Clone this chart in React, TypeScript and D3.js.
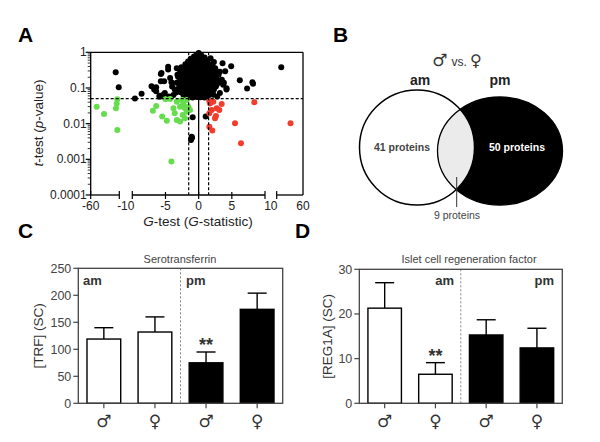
import React from "react";
import * as d3 from "d3";

// ---------- Panel A data (G-statistic, t-test p-value) ----------
const blackPoints: [number, number][] = [
  // outer scatter
  [-16.3, 0.275], [-11, 0.105], [-9.6, 0.051], [-8.6, 0.069], [-7.1, 0.112], [-6.7, 0.09],
  [-6.4, 0.105], [-6.4, 0.081], [-5.9, 0.061], [-5.6, 0.263], [-5.7, 0.154], [-4.6, 0.33],
  [-4.3, 0.19], [-5.2, 0.154], [-4.1, 0.144], [-3.3, 0.36], [-3.2, 0.236], [-3.6, 0.09],
  [-5.1, 0.072], [-2.3, 0.065], [-4.6, 0.395], [-5.7, 0.247], [-3.1, 0.207], [-5.9, 0.057],
  [-5.4, 0.064], [-3.8, 0.064], [-4.5, 0.058], [-3.4, 0.075], [-4.0, 0.11],
  [2.5, 0.36], [3.0, 0.236], [4.0, 0.294], [3.5, 0.171], [3.7, 0.124], [4.2, 0.09],
  [2.7, 0.124], [3.2, 0.072], [2.2, 0.065], [1.8, 0.68], [2.3, 0.535], [4.9, 0.405],
  [6.2, 0.164], [7.3, 0.096], [8.1, 0.144], [8.2, 0.132], [18.6, 0.38], [3.2, 0.286],
  [3.8, 0.14], [4.2, 0.098], [3.6, 0.49], [2.8, 0.058],
  [-0.9, 0.015], [-1.05, 0.0043], [-1.15, 0.0035], [-1.0, 0.004], [1.06, 0.0158],
  // dense core
  [0, 0.95], [-0.3, 0.85], [0.35, 0.86],
  [-0.7, 0.76], [-0.1, 0.78], [0.5, 0.74], [0.9, 0.72],
  [-1.2, 0.66], [-0.5, 0.64], [0.1, 0.65], [0.7, 0.62], [1.3, 0.6],
  [-1.6, 0.55], [-1.0, 0.53], [-0.4, 0.56], [0.2, 0.52], [0.8, 0.54], [1.4, 0.5],
  [-2.0, 0.46], [-1.4, 0.44], [-0.8, 0.45], [-0.2, 0.43], [0.4, 0.46], [1.0, 0.42], [1.7, 0.44], [2.1, 0.41],
  [-2.6, 0.38], [-1.9, 0.37], [-1.2, 0.36], [-0.6, 0.38], [0.0, 0.36], [0.6, 0.37], [1.2, 0.35], [1.8, 0.38],
  [-2.8, 0.31], [-2.2, 0.3], [-1.6, 0.32], [-1.0, 0.3], [-0.4, 0.31], [0.2, 0.29], [0.8, 0.32], [1.4, 0.3], [2.0, 0.31], [2.5, 0.3],
  [-2.5, 0.26], [-1.9, 0.25], [-1.3, 0.26], [-0.7, 0.24], [-0.1, 0.25], [0.5, 0.26], [1.1, 0.24], [1.7, 0.25], [2.3, 0.24],
  [-3.0, 0.21], [-2.3, 0.2], [-1.7, 0.21], [-1.1, 0.2], [-0.5, 0.22], [0.1, 0.2], [0.7, 0.21], [1.3, 0.2], [1.9, 0.21], [2.6, 0.2],
  [-2.8, 0.17], [-2.1, 0.165], [-1.5, 0.17], [-0.9, 0.16], [-0.3, 0.17], [0.3, 0.165], [0.9, 0.17], [1.5, 0.16], [2.1, 0.17], [2.8, 0.165],
  [-3.3, 0.14], [-2.6, 0.135], [-2.0, 0.14], [-1.4, 0.13], [-0.8, 0.14], [-0.2, 0.135], [0.4, 0.14], [1.0, 0.13], [1.6, 0.14], [2.3, 0.135], [3.0, 0.14],
  [-2.9, 0.112], [-2.3, 0.11], [-1.7, 0.115], [-1.1, 0.108], [-0.5, 0.112], [0.1, 0.11], [0.7, 0.115], [1.3, 0.108], [1.9, 0.112], [2.6, 0.11],
  [-3.1, 0.092], [-2.5, 0.09], [-1.9, 0.094], [-1.3, 0.088], [-0.7, 0.092], [-0.1, 0.09], [0.5, 0.094], [1.1, 0.088], [1.7, 0.092], [2.3, 0.09],
  [-2.7, 0.076], [-2.1, 0.074], [-1.5, 0.078], [-0.9, 0.073], [-0.3, 0.076], [0.3, 0.074], [0.9, 0.078], [1.5, 0.073], [2.1, 0.076],
  [-1.9, 0.063], [-1.3, 0.062], [-0.7, 0.064], [-0.1, 0.061], [0.5, 0.063], [1.1, 0.062], [1.6, 0.064],
  [-1.5, 0.055], [-0.9, 0.054], [-0.3, 0.056], [0.3, 0.055], [0.9, 0.054],
];

const greenPoints: [number, number][] = [
  [-49.5, 0.03], [-36.7, 0.0187], [-13.5, 0.048], [-14.5, 0.037], [-15.8, 0.027], [-13.5, 0.0066],
  [-6.4, 0.031], [-6.9, 0.023], [-5.5, 0.0158], [-4.8, 0.0121], [-5.0, 0.048], [-4.3, 0.049],
  [-3.8, 0.027], [-3.6, 0.0195], [-3.3, 0.0127], [-2.8, 0.0114], [-2.55, 0.046], [-2.3, 0.037],
  [-2.06, 0.027], [-2.4, 0.0175], [-2.06, 0.0142], [-1.8, 0.046], [-1.56, 0.03], [-1.8, 0.0217],
  [-1.3, 0.024], [-2.8, 0.03], [-3.3, 0.041], [-4.1, 0.00087],
];

const redPoints: [number, number][] = [
  [1.71, 0.037], [2.21, 0.041], [3.47, 0.0356], [2.72, 0.027], [1.97, 0.0242], [3.11, 0.0242],
  [1.61, 0.0196], [2.61, 0.0164], [2.46, 0.0142], [1.61, 0.0082], [2.06, 0.0064], [5.48, 0.0103],
  [6.38, 0.0028], [8.39, 0.04], [36.3, 0.0103], [1.6, 0.043],
];

const yTicksA = [1, 0.1, 0.01, 0.001, 0.0001];
const yTickLabelsA = ["1", "0.1", "0.01", "0.001", "0.0001"];
const xMidTicks = [-5, 0, 5];
const gThreshold = 1.5;
const pThreshold = 0.05;

// ---------- Panel B data ----------
const vennSets = ["am", "pm"];
const vennLabels = ["41 proteins", "50 proteins", "9 proteins"];

// ---------- Panels C & D data ----------
const sexLabels = ["♂", "♀", "♂", "♀"];
const trfMeans = [119, 132, 75, 174];
const trfUpper = [140, 160, 95, 204];
const trfTicks = [0, 50, 100, 150, 200, 250];
const reg1aMeans = [21.3, 6.5, 15.3, 12.4];
const reg1aUpper = [27, 9.1, 18.7, 16.8];
const reg1aTicks = [0, 10, 20, 30];
const barFills = ["#fff", "#fff", "#000", "#000"];

const FONT = "Arial, 'Liberation Sans', Helvetica, sans-serif";
const SYM = "'DejaVu Sans', sans-serif";

function PanelA() {
  const y = d3.scaleLog().domain([1e-4, 1]).range([195, 52.3]);
  const xl = d3.scaleLinear().domain([-60, -10]).range([90.7, 119.3]);
  const xm = d3.scaleLinear().domain([-10, 10]).range([132.3, 265]);
  const xr = d3.scaleLinear().domain([10, 60]).range([276.7, 303]);
  const gx = (g: number) => (g < -10 ? xl(g) : g > 10 ? xr(g) : xm(g));
  const left = 90.7, right = 303, top = 52.3, bottom = 195;
  const minor: number[] = [];
  for (let e = -4; e < 0; e++) for (let k = 2; k <= 9; k++) minor.push(k * Math.pow(10, e));
  const r = 3;
  const tickY = bottom;
  const xLabels = [
    { x: xl(-60), t: "-60" },
    { x: (xl(-10) + xm(-10)) / 2, t: "-10" },
    ...xMidTicks.map((v) => ({ x: xm(v), t: String(v) })),
    { x: (xm(10) + xr(10)) / 2, t: "10" },
    { x: xr(60), t: "60" },
  ];
  const segTicks = [xl(-60), xl(-10), xm(-10), xm(10), xr(10)];
  return (
    <g fontFamily={FONT}>
      <text x={18} y={42} fontSize={21} fontWeight="bold">A</text>
      {blackPoints.map((d, i) => (
        <circle key={"b" + i} cx={gx(d[0])} cy={y(d[1])} r={r} fill="#000" />
      ))}
      {greenPoints.map((d, i) => (
        <circle key={"g" + i} cx={gx(d[0])} cy={y(d[1])} r={r} fill="#66dd4c" />
      ))}
      {redPoints.map((d, i) => (
        <circle key={"r" + i} cx={gx(d[0])} cy={y(d[1])} r={r} fill="#f23c2c" />
      ))}
      {/* threshold lines */}
      <line x1={left} x2={right} y1={y(pThreshold)} y2={y(pThreshold)} stroke="#000" strokeWidth={1.2} strokeDasharray="3,2" />
      <line x1={xm(-gThreshold)} x2={xm(-gThreshold)} y1={top} y2={bottom} stroke="#000" strokeWidth={1.2} strokeDasharray="3,2" />
      <line x1={xm(gThreshold)} x2={xm(gThreshold)} y1={top} y2={bottom} stroke="#000" strokeWidth={1.2} strokeDasharray="3,2" />
      <line x1={xm(0)} x2={xm(0)} y1={top} y2={bottom} stroke="#000" strokeWidth={1.3} />
      {/* frame */}
      <line x1={left} x2={right} y1={top} y2={top} stroke="#000" strokeWidth={1.3} />
      <line x1={right} x2={right} y1={top} y2={bottom} stroke="#000" strokeWidth={1.3} />
      <line x1={left} x2={left} y1={top} y2={bottom} stroke="#000" strokeWidth={1.3} />
      {/* y ticks */}
      {yTicksA.map((v, i) => (
        <g key={"yt" + i}>
          <line x1={left - 5} x2={left} y1={y(v)} y2={y(v)} stroke="#000" strokeWidth={1.2} />
          <text x={left - 4} y={y(v) + 4} fontSize={12} textAnchor="end" fill="#222">{yTickLabelsA[i]}</text>
        </g>
      ))}
      {minor.map((v, i) => (
        <line key={"ym" + i} x1={left - 3} x2={left} y1={y(v)} y2={y(v)} stroke="#000" strokeWidth={0.8} />
      ))}
      {/* broken x axis */}
      <line x1={xl(-60)} x2={xl(-10)} y1={bottom} y2={bottom} stroke="#000" strokeWidth={1.3} />
      <line x1={xm(-10)} x2={xm(10)} y1={bottom} y2={bottom} stroke="#000" strokeWidth={1.3} />
      <line x1={xr(10)} x2={xr(60)} y1={bottom} y2={bottom} stroke="#000" strokeWidth={1.3} />
      {segTicks.map((x, i) => (
        <line key={"st" + i} x1={x} x2={x} y1={tickY - 4} y2={tickY + 4} stroke="#000" strokeWidth={1.2} />
      ))}
      {xMidTicks.map((v, i) => (
        <line key={"mt" + i} x1={xm(v)} x2={xm(v)} y1={tickY - 3} y2={tickY + 4} stroke="#000" strokeWidth={1.2} />
      ))}
      {xLabels.map((d, i) => (
        <text key={"xl" + i} x={d.x} y={209.5} fontSize={12} textAnchor="middle" fill="#222">{d.t}</text>
      ))}
      <text x={198} y={226} fontSize={13.5} textAnchor="middle" fill="#222">
        <tspan fontStyle="italic">G</tspan>-test (<tspan fontStyle="italic">G</tspan>-statistic)
      </text>
      <text transform="translate(43,123) rotate(-90)" fontSize={13.5} textAnchor="middle" fill="#222">
        <tspan fontStyle="italic">t</tspan>-test (<tspan fontStyle="italic">p</tspan>-value)
      </text>
    </g>
  );
}

function PanelB() {
  const lc = { cx: 417, cy: 147.5, r: 57.5 };
  const rc = { cx: 500, cy: 151, rx: 62.5, ry: 54 };
  return (
    <g fontFamily={FONT}>
      <defs>
        <clipPath id="leftClip">
          <circle cx={lc.cx} cy={lc.cy} r={lc.r} />
        </clipPath>
      </defs>
      <text x={333} y={42} fontSize={21} fontWeight="bold">B</text>
      <text x={457} y={66} textAnchor="middle" fill="#333">
        <tspan fontFamily={SYM} fontSize={17}>♂</tspan>
        <tspan fontSize={12} dx={4}>vs.</tspan>
        <tspan fontFamily={SYM} fontSize={16} dx={3}>♀</tspan>
      </text>
      <text x={420} y={85} fontSize={14} fontWeight="bold" textAnchor="middle" fill="#222">{vennSets[0]}</text>
      <text x={500} y={85} fontSize={14} fontWeight="bold" textAnchor="middle" fill="#222">{vennSets[1]}</text>
      <ellipse cx={rc.cx} cy={rc.cy} rx={rc.rx} ry={rc.ry} fill="#000" />
      <ellipse cx={rc.cx} cy={rc.cy} rx={rc.rx} ry={rc.ry} fill="#ebebeb" clipPath="url(#leftClip)" />
      <ellipse cx={rc.cx} cy={rc.cy} rx={rc.rx} ry={rc.ry} fill="none" stroke="#000" strokeWidth={1.3} />
      <circle cx={lc.cx} cy={lc.cy} r={lc.r} fill="none" stroke="#000" strokeWidth={1.5} />
      <text x={402} y={151} fontSize={10.5} fontWeight="bold" textAnchor="middle" fill="#444">{vennLabels[0]}</text>
      <text x={517} y={151} fontSize={10.5} fontWeight="bold" textAnchor="middle" fill="#fff">{vennLabels[1]}</text>
      <line x1={456.7} x2={456.7} y1={177} y2={207} stroke="#333" strokeWidth={1} />
      <text x={457} y={219} fontSize={10.5} textAnchor="middle" fill="#444">{vennLabels[2]}</text>
    </g>
  );
}

type BarProps = {
  letter: string; letterX: number;
  x0: number; x1: number; yTop: number; yBot: number; max: number;
  ticks: number[]; means: number[]; upper: number[];
  title: string; titleX: number; ylabel: string; ylabelX: number;
  amX: number; amAnchor: string; pmX: number; pmAnchor: string; starIdx: number;
};

function BarPanel(p: BarProps) {
  const y = d3.scaleLinear().domain([0, p.max]).range([p.yBot, p.yTop]);
  const xb = d3.scaleBand<number>().domain([0, 1, 2, 3]).range([p.x0, p.x1]).paddingInner(0.34).paddingOuter(0.17);
  const bw = xb.bandwidth();
  const mid = (p.x0 + p.x1) / 2;
  const ax = "#444";
  return (
    <g fontFamily={FONT}>
      <text x={p.letterX} y={238} fontSize={21} fontWeight="bold">{p.letter}</text>
      <text x={p.titleX} y={263} fontSize={11} textAnchor="middle" fill="#444">{p.title}</text>
      <line x1={mid} x2={mid} y1={p.yTop} y2={p.yBot} stroke="#888" strokeWidth={1} strokeDasharray="2,2" />
      {p.means.map((m, i) => {
        const cx = (xb(i) as number) + bw / 2;
        return (
          <g key={i}>
            <line x1={cx} x2={cx} y1={y(m)} y2={y(p.upper[i])} stroke="#000" strokeWidth={1.4} />
            <line x1={cx - 9.5} x2={cx + 9.5} y1={y(p.upper[i])} y2={y(p.upper[i])} stroke="#000" strokeWidth={1.4} />
            <rect x={xb(i)} y={y(m)} width={bw} height={y(0) - y(m)} fill={barFills[i]} stroke="#000" strokeWidth={1.4} />
            <line x1={cx} x2={cx} y1={p.yBot} y2={p.yBot + 5} stroke={ax} strokeWidth={1.2} />
            <text x={cx} y={427} fontFamily={SYM} fontSize={17} textAnchor="middle" fill="#333">{sexLabels[i]}</text>
          </g>
        );
      })}
      {(() => {
        const i = p.starIdx;
        const cx = (xb(i) as number) + bw / 2;
        return (
          <text x={cx} y={y(p.upper[i]) - 1} fontSize={18} fontWeight="bold" textAnchor="middle" fill="#333">**</text>
        );
      })()}
      <rect x={p.x0} y={p.yTop} width={p.x1 - p.x0} height={p.yBot - p.yTop} fill="none" stroke={ax} strokeWidth={1.3} />
      {p.ticks.map((t, i) => (
        <g key={"t" + i}>
          <line x1={p.x0 - 5} x2={p.x0} y1={y(t)} y2={y(t)} stroke={ax} strokeWidth={1.2} />
          <text x={p.x0 - 7} y={y(t) + 4.5} fontSize={12.5} textAnchor="end" fill="#444">{t}</text>
        </g>
      ))}
      <text x={p.amX} y={285} fontSize={13} fontWeight="bold" textAnchor={p.amAnchor} fill="#333">am</text>
      <text x={p.pmX} y={285} fontSize={13} fontWeight="bold" textAnchor={p.pmAnchor} fill="#333">pm</text>
      <text transform={`translate(${p.ylabelX},${(p.yTop + p.yBot) / 2}) rotate(-90)`} fontSize={13.5} textAnchor="middle" fill="#333">{p.ylabel}</text>
    </g>
  );
}

export default function App() {
  return (
    <svg width={600} height={442} viewBox="0 0 600 442" style={{ position: "absolute", left: 0, top: 0, background: "#fff" }}>
      <rect width={600} height={442} fill="#fff" />
      <PanelA />
      <PanelB />
      <BarPanel letter="C" letterX={18} x0={78.3} x1={282.7} yTop={268.3} yBot={403.3} max={250}
        ticks={trfTicks} means={trfMeans} upper={trfUpper} title="Serotransferrin" titleX={180}
        ylabel="[TRF] (SC)" ylabelX={43} amX={83} amAnchor="start" pmX={186} pmAnchor="start" starIdx={2} />
      <BarPanel letter="D" letterX={295} x0={359.3} x1={562.3} yTop={269.3} yBot={403.3} max={30}
        ticks={reg1aTicks} means={reg1aMeans} upper={reg1aUpper} title="Islet cell regeneration factor" titleX={469}
        ylabel="[REG1A] (SC)" ylabelX={332} amX={454} amAnchor="end" pmX={554} pmAnchor="end" starIdx={1} />
    </svg>
  );
}
